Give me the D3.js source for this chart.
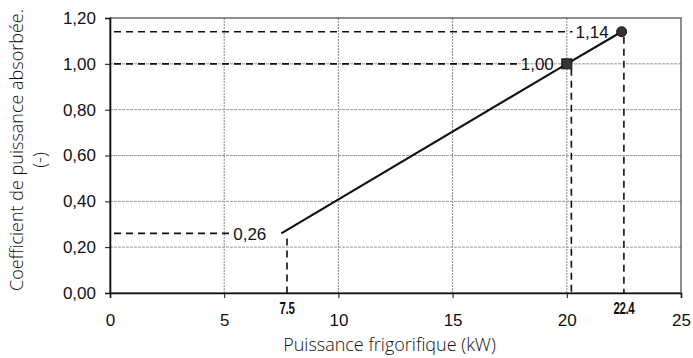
<!DOCTYPE html>
<html>
<head>
<meta charset="utf-8">
<script src="https://cdn.jsdelivr.net/npm/d3@7"></script>
<style>
  body { margin: 0; background: #fff; }
  svg { display: block; }
</style>
</head>
<body>
<div id="chart"></div>
<script>
// data
const xTicks = [0, 5, 10, 15, 20, 25];
const yTicks = [0, 0.2, 0.4, 0.6, 0.8, 1.0, 1.2];
const lineX = [7.5, 20, 22.4];
const lineY = [0.26, 1.00, 1.14];
const pointLabels = ['0,26', '1,00', '1,14'];
const dropX = [7.75, 20.2, 22.5];       // vertical dashed guides (slightly off in the original)
const dropLabels = ['7.5', '', '22.4'];

const W = 693, H = 358;
const margin = { top: 18, right: 12, bottom: 65, left: 110 };

const svg = d3.select('#chart').append('svg')
    .attr('width', W)
    .attr('height', H);

const x = d3.scaleLinear().domain([0, 25]).range([margin.left, W - margin.right]);
const y = d3.scaleLinear().domain([0, 1.2]).range([H - margin.bottom, margin.top]);

const fmt = d => d3.format('.2f')(d).replace('.', ',');

// grid
svg.append('g').selectAll('line')
    .data(xTicks.slice(1, -1))
    .enter().append('line')
    .attr('x1', d => x(d)).attr('x2', d => x(d))
    .attr('y1', y(0)).attr('y2', y(1.2))
    .style('stroke', '#888').style('stroke-width', 1).style('stroke-dasharray', '2,1');
svg.append('g').selectAll('line')
    .data(yTicks.slice(1, -1))
    .enter().append('line')
    .attr('x1', x(0)).attr('x2', x(25))
    .attr('y1', d => y(d)).attr('y2', d => y(d))
    .style('stroke', '#999').style('stroke-width', 1).style('stroke-dasharray', '3,1');

// frame
svg.append('rect')
    .attr('x', x(0)).attr('y', y(1.2))
    .attr('width', x(25) - x(0)).attr('height', y(0) - y(1.2))
    .style('fill', 'none').style('stroke', '#444').style('stroke-width', 1.2);

// axes
const xAxis = svg.append('g')
    .attr('transform', `translate(0,${y(0)})`)
    .call(d3.axisBottom(x).tickValues(xTicks).tickSize(5).tickPadding(16).tickFormat(d3.format('d')));
const yAxis = svg.append('g')
    .attr('transform', `translate(${x(0)},0)`)
    .call(d3.axisLeft(y).tickValues(yTicks).tickSize(5).tickPadding(9).tickFormat(fmt));
[xAxis, yAxis].forEach(a => {
    a.select('.domain').style('stroke', '#111').style('stroke-width', 1.6);
    a.selectAll('.tick line').style('stroke', '#111');
    a.selectAll('text')
        .style('font-family', '"Liberation Sans", Arial, sans-serif')
        .style('font-size', '17px')
        .style('fill', '#111');
});

// dashed guides
const dash = g => g.style('stroke', '#111').style('stroke-width', 1.6).style('stroke-dasharray', '7,5').style('fill', 'none');

const labels = svg.append('g').selectAll('text')
    .data(lineX.map((v, i) => ({ x: v, y: lineY[i], label: pointLabels[i], i })))
    .enter().append('text')
    .attr('x', d => x(d.x) - (d.i == 0 ? 15 : 13))
    .attr('y', d => y(d.y))
    .attr('dy', '0.36em')
    .attr('text-anchor', 'end')
    .style('font-family', '"Liberation Sans", Arial, sans-serif')
    .style('font-size', '17px')
    .style('fill', '#111')
    .text(d => d.label);

labels.each(function (d) {
    const bb = this.getBBox();
    dash(svg.append('line'))
        .attr('x1', x(0) + 4).attr('x2', bb.x - 3)
        .attr('y1', y(d.y)).attr('y2', y(d.y));
});

svg.append('g').selectAll('line')
    .data(dropX.map((v, i) => ({ x: v, y: lineY[i] })))
    .enter().append('line')
    .call(dash)
    .attr('x1', d => x(d.x)).attr('x2', d => x(d.x))
    .attr('y1', d => y(d.y) + 5).attr('y2', y(0));

svg.append('g').selectAll('text')
    .data(dropX.map((v, i) => ({ x: v, label: dropLabels[i] })))
    .enter().append('text')
    .attr('transform', d => `translate(${x(d.x)},${y(0) + 21}) scale(0.72,1)`)
    .attr('text-anchor', 'middle')
    .style('font-family', '"Liberation Sans", Arial, sans-serif')
    .style('font-weight', 'bold')
    .style('font-size', '16px')
    .style('letter-spacing', '-0.5px')
    .style('fill', '#111')
    .text(d => d.label);

// main line
const line = d3.line().x((d, i) => x(lineX[i])).y(d => y(d));
svg.append('path')
    .datum(lineY)
    .attr('d', line)
    .style('fill', 'none').style('stroke', '#111').style('stroke-width', 2.2);

// markers
svg.append('rect')
    .attr('x', x(lineX[1]) - 5).attr('y', y(lineY[1]) - 5)
    .attr('width', 10).attr('height', 10)
    .style('fill', '#333').style('stroke', '#111');
svg.append('circle')
    .attr('cx', x(lineX[2])).attr('cy', y(lineY[2]))
    .attr('r', 5)
    .style('fill', '#333').style('stroke', '#111');

// axis titles
svg.append('text')
    .attr('x', (x(0) + x(25)) / 2 - 6)
    .attr('y', 351)
    .attr('text-anchor', 'middle')
    .style('font-family', '"Open Sans", sans-serif')
    .style('font-weight', 300)
    .style('font-size', '18px')
    .style('fill', '#111')
    .text('Puissance frigorifique (kW)');

const yt = svg.append('text')
    .attr('transform', `translate(23,150) rotate(-90)`)
    .attr('text-anchor', 'middle')
    .style('font-family', '"Open Sans", sans-serif')
    .style('font-weight', 300)
    .style('font-size', '18px')
    .style('fill', '#111');
yt.append('tspan').attr('x', 0).attr('y', 0).text('Coefficient de puissance absorbée.');
yt.append('tspan').attr('x', -10).attr('y', 23).text('(-)');
</script>
</body>
</html>
